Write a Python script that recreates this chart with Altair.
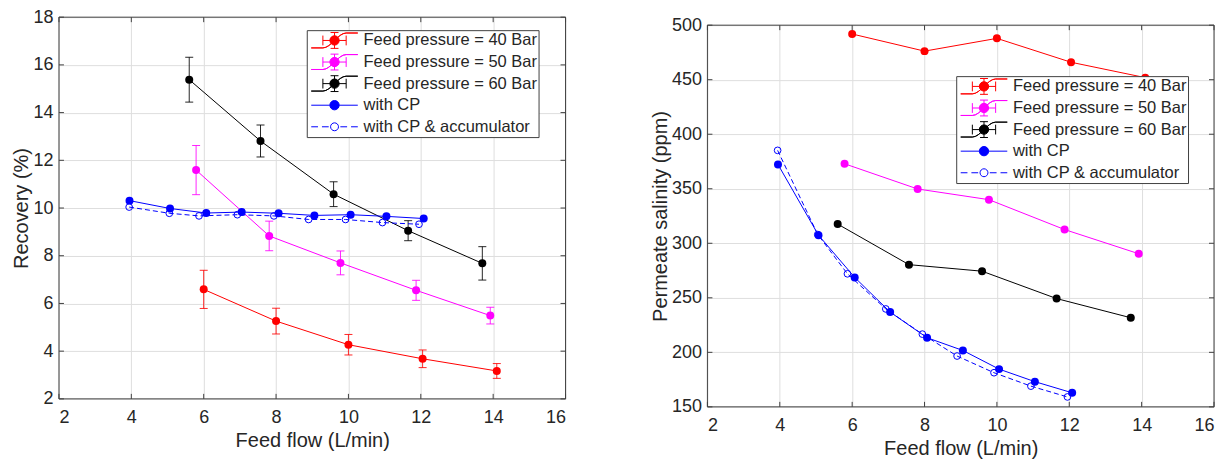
import altair as alt
import pandas as pd

# ---------------- data ----------------
series = ["Feed pressure = 40 Bar", "Feed pressure = 50 Bar", "Feed pressure = 60 Bar",
          "with CP", "with CP & accumulator"]
colors = ["#ff0000", "#ff00ff", "#000000", "#0000ff", "#0000ff"]
fills = ["#ff0000", "#ff00ff", "#000000", "#0000ff", "#ffffff"]

x40 = [6.0, 8.0, 10.0, 12.05, 14.1]
x50 = [5.79, 7.81, 9.78, 11.87, 13.92]
x60 = [5.6, 7.57, 9.59, 11.65, 13.7]
xcp = [3.95, 5.07, 6.07, 7.05, 8.07, 9.06, 10.06, 11.05, 12.08]
xacc = [3.94, 5.05, 5.87, 6.93, 7.94, 8.9, 9.92, 10.94, 11.95]

rec40 = [6.59, 5.26, 4.27, 3.68, 3.17]
rec40_err = [0.80, 0.54, 0.43, 0.37, 0.31]
rec50 = [11.59, 8.83, 7.70, 6.55, 5.49]
rec50_err = [1.03, 0.62, 0.50, 0.42, 0.35]
rec60 = [15.38, 12.81, 10.58, 9.05, 7.68]
rec60_err = [0.94, 0.67, 0.52, 0.42, 0.70]
rec_cp = [10.31, 9.98, 9.79, 9.83, 9.78, 9.69, 9.72, 9.65, 9.56]
rec_acc = [10.04, 9.78, 9.67, 9.72, 9.67, 9.52, 9.52, 9.39, 9.32]

sal40 = [491.9, 476.2, 487.9, 466.0, 451.9]
sal50 = [372.9, 349.8, 340.0, 312.6, 290.4]
sal60 = [317.6, 280.4, 274.4, 249.3, 231.7]
sal_cp = [372.3, 307.4, 268.7, 236.9, 213.4, 201.7, 184.6, 173.1, 162.9]
sal_acc = [385.2, 308.0, 272.0, 239.8, 216.7, 196.6, 181.3, 169.0, 159.1]

xticks = [2, 4, 6, 8, 10, 12, 14, 16]
rec_ticks = [2, 4, 6, 8, 10, 12, 14, 16, 18]
sal_ticks = [150, 200, 250, 300, 350, 400, 450, 500]

# ---------------- style ----------------
W, H = 507, 382
FONT = "Liberation Sans"
TXT = "#262626"
FRAME = "#404040"
GRID = "#dedede"


def circ(r):
    k = round(0.5523 * r, 4)
    return (f"M {r} 0 C {r} {k} {k} {r} 0 {r} C {-k} {r} {-r} {k} {-r} 0 "
            f"C {-r} {-k} {-k} {-r} 0 {-r} C {k} {-r} {r} {-k} {r} 0 Z")


ERR_GLYPH = ("M -1 0.32 L -0.5 0.32 C -0.15 0.32 0.15 -0.32 0.5 -0.32 L 1 -0.32 "
             "L 0.5 -0.32 C 0.15 -0.32 -0.15 0.32 -0.5 0.32 Z "
             "M -0.5 0 L 0.5 0 M -0.5 -0.21 L -0.5 0.21 M 0.5 -0.21 L 0.5 0.21 "
             "M 0 -0.34 L 0 0.34 M -0.17 -0.34 L 0.17 -0.34 M -0.17 0.34 L 0.17 0.34 "
             + circ(0.2))
CP_GLYPH = "M -1 0 L -0.2 0 M 0.2 0 L 1 0 " + circ(0.2)
ACC_GLYPH = ("M -1 0 L -0.71 0 M -0.54 0 L -0.25 0 M 0.25 0 L 0.54 0 M 0.71 0 L 1 0 "
             + circ(0.17))
glyphs = [ERR_GLYPH, ERR_GLYPH, ERR_GLYPH, CP_GLYPH, ACC_GLYPH]


def panel(ys, errs, ydomain, yticks, ytitle, lx, ly):
    xax = alt.Axis(values=xticks, title="Feed flow (L/min)", format="d")
    yax = alt.Axis(values=yticks, title=ytitle, format="d")

    def X(f):
        return alt.X(f"{f}:Q", scale=alt.Scale(domain=[2, 16], nice=False, zero=False), axis=xax)

    def Y(f):
        return alt.Y(f"{f}:Q", scale=alt.Scale(domain=ydomain, nice=False, zero=False), axis=yax)

    layers = []
    xs = [x40, x50, x60, xcp, xacc]
    for i, (xv, yv) in enumerate(zip(xs, ys)):
        df = pd.DataFrame({"x": xv, "y": yv})
        c = colors[i]
        if i == 4:
            layers.append(alt.Chart(df).mark_line(color=c, strokeWidth=1, strokeDash=[5, 3])
                          .encode(x=X("x"), y=Y("y")))
            layers.append(alt.Chart(df).mark_point(color=c, filled=False, size=45, strokeWidth=1, opacity=1)
                          .encode(x=X("x"), y=Y("y")))
            continue
        layers.append(alt.Chart(df).mark_line(color=c, strokeWidth=1).encode(x=X("x"), y=Y("y")))
        if errs is not None and i < 3:
            e = pd.DataFrame({"x": xv,
                              "lo": [a - b for a, b in zip(yv, errs[i])],
                              "hi": [a + b for a, b in zip(yv, errs[i])]})
            layers.append(alt.Chart(e).mark_rule(color=c, strokeWidth=1, opacity=0.85)
                          .encode(x=X("x"), y=Y("lo"), y2="hi:Q"))
            layers.append(alt.Chart(e).mark_tick(color=c, orient="horizontal", size=8, thickness=1, opacity=0.85)
                          .encode(x=X("x"), y=Y("lo")))
            layers.append(alt.Chart(e).mark_tick(color=c, orient="horizontal", size=8, thickness=1, opacity=0.85)
                          .encode(x=X("x"), y=Y("hi")))
        layers.append(alt.Chart(df).mark_circle(color=c, size=64, opacity=1).encode(x=X("x"), y=Y("y")))

    # frame box and inward tick marks on all four sides
    box = pd.DataFrame({"b": [0]})
    layers.append(alt.Chart(box).mark_rect(fillOpacity=0, stroke=FRAME, strokeWidth=1)
                  .encode(x=alt.value(0), x2=alt.value(W), y=alt.value(0), y2=alt.value(H)))
    xt = pd.DataFrame({"t": xticks})
    yt = pd.DataFrame({"t": yticks})
    layers.append(alt.Chart(xt).mark_rule(color=FRAME, strokeWidth=1)
                  .encode(x=X("t"), y=alt.value(H), y2=alt.value(H - 5)))
    layers.append(alt.Chart(xt).mark_rule(color=FRAME, strokeWidth=1)
                  .encode(x=X("t"), y=alt.value(0), y2=alt.value(5)))
    layers.append(alt.Chart(yt).mark_rule(color=FRAME, strokeWidth=1)
                  .encode(y=Y("t"), x=alt.value(0), x2=alt.value(5)))
    layers.append(alt.Chart(yt).mark_rule(color=FRAME, strokeWidth=1)
                  .encode(y=Y("t"), x=alt.value(W), x2=alt.value(W - 5)))

    # legend-only layer
    leg = alt.Legend(title=None, orient="none", legendX=lx, legendY=ly, direction="vertical",
                     symbolSize=2172, symbolStrokeWidth=1, clipHeight=18.6, rowPadding=2.6,
                     padding=1, symbolOffset=2.8, labelOffset=5, labelFontSize=16.5,
                     labelFont=FONT, labelColor=TXT, fillColor="white", strokeColor=FRAME,
                     labelLimit=400)
    ldf = pd.DataFrame({"series": series, "x": [2] * 5, "y": [ydomain[0]] * 5})
    layers.append(
        alt.Chart(ldf).transform_filter("false").mark_point(filled=True, opacity=1, strokeWidth=1)
        .encode(x=X("x"), y=Y("y"),
                fill=alt.Fill("series:N", scale=alt.Scale(domain=series, range=fills), legend=leg),
                stroke=alt.Stroke("series:N", scale=alt.Scale(domain=series, range=colors), legend=leg),
                shape=alt.Shape("series:N", scale=alt.Scale(domain=series, range=glyphs), legend=leg))
    )
    return alt.layer(*layers).properties(width=W, height=H)


left = panel([rec40, rec50, rec60, rec_cp, rec_acc], [rec40_err, rec50_err, rec60_err],
             [2, 18], rec_ticks, "Recovery (%)", 248, 13)
right = panel([sal40, sal50, sal60, sal_cp, sal_acc], None,
              [150, 500], sal_ticks, "Permeate salinity (ppm)", 249, 59)

spacer = alt.Chart(pd.DataFrame({"s": [0]})).mark_point(opacity=0).properties(width=W, height=1)

chart = (
    alt.hconcat(left, alt.vconcat(spacer, right, spacing=-5), spacing=83)
    .resolve_scale(fill="independent", stroke="independent", shape="independent")
    .resolve_legend(fill="independent", stroke="independent", shape="independent")
    .properties(padding={"left": 3, "top": 0, "right": 0, "bottom": 0}, background="white")
    .configure_view(strokeWidth=0)
    .configure_axis(labelFont=FONT, titleFont=FONT, labelFontSize=18, titleFontSize=20,
                    titleFontWeight="normal", labelColor=TXT, titleColor=TXT,
                    grid=True, gridColor=GRID, gridWidth=1, domain=False, ticks=False, tickSize=0)
    .configure_axisX(labelPadding=10, titlePadding=4)
    .configure_axisY(labelPadding=6, titlePadding=1)
)

chart.save("out.html", embed_options={"renderer": "svg", "actions": False})
